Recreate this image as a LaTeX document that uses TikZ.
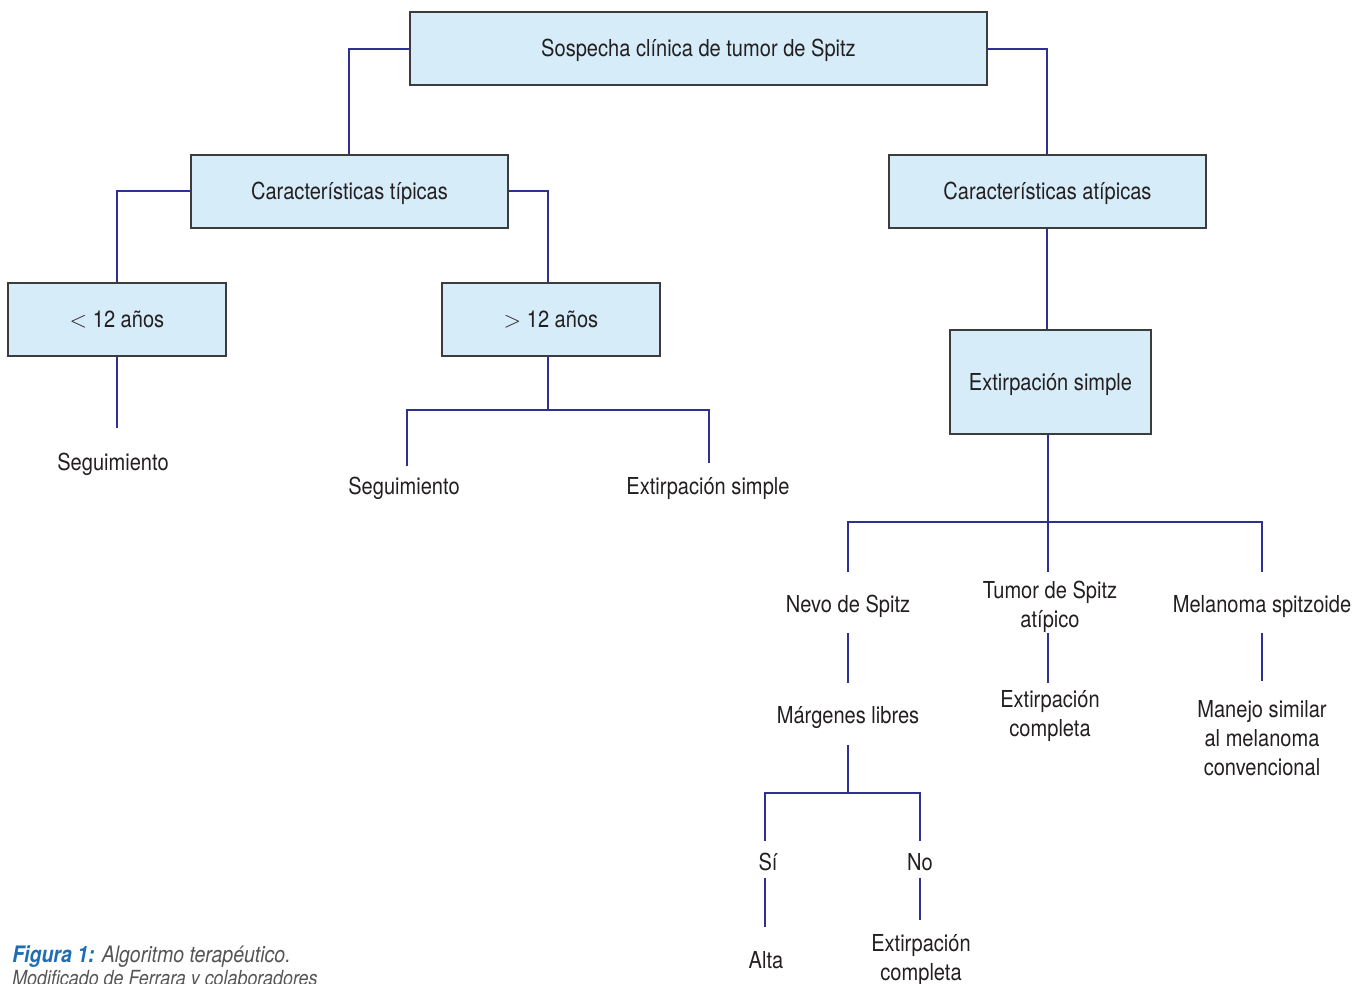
\documentclass[tikz,border=0pt]{standalone}
\usepackage{fontspec}
\setmainfont{TeX Gyre Heros}[FakeStretch=0.86]
\definecolor{boxfill}{HTML}{D6ECF9}
\definecolor{boxline}{HTML}{3C3C3C}
\definecolor{linec}{HTML}{2E3192}
\definecolor{txt}{HTML}{231F20}
\definecolor{capblue}{HTML}{1F6DB3}
\definecolor{capgray}{HTML}{555555}
\begin{document}
\begin{tikzpicture}[x=0.75pt,y=-0.75pt,
  box/.style={draw=boxline, fill=boxfill, line width=0.9pt, inner sep=0pt, minimum height=54.75pt, text=txt, text height=15pt, text depth=2.4pt, font=\fontsize{17.5}{21.75}\selectfont},
  lab/.style={text=txt, align=center, inner sep=0pt, yshift=-1.8pt, font=\fontsize{17.5}{21.75}\selectfont},
  conn/.style={draw=linec, line width=1.4pt},
  capt/.style={anchor=base west, inner sep=0pt, font=\fontsize{17}{20}\selectfont\itshape, text=capgray}]
\useasboundingbox (0,0) rectangle (1365,983);

% boxes
\node[box, minimum width=432.75pt] (root) at (698.5,48.5) {Sospecha clínica de tumor de Spitz};
\node[box, minimum width=237.75pt] (tip) at (349.5,191.5) {Características típicas};
\node[box, minimum width=237.75pt] (atip) at (1047.5,191.5) {Características atípicas};
\node[box, minimum width=163.5pt] (lt) at (117,319.5) {$<$ 12 años};
\node[box, minimum width=163.5pt] (gt) at (551,319.5) {$>$ 12 años};
\node[box, minimum width=150.75pt, minimum height=78pt] (ext) at (1050.5,382) {Extirpación simple};

% labels
\node[lab] (seg1) at (113,462) {Seguimiento};
\node[lab] (seg2) at (404,486) {Seguimiento};
\node[lab] (ext2) at (708,486) {Extirpación simple};
\node[lab] (nevo) at (848,604) {Nevo de Spitz};
\node[lab] (tsa) at (1050,604) {Tumor de Spitz\\atípico};
\node[lab] (mel) at (1262,604) {Melanoma spitzoide};
\node[lab] (marg) at (848,715) {Márgenes libres};
\node[lab] (excomp1) at (1050,714) {Extirpación\\completa};
\node[lab] (manejo) at (1262,736) {Manejo similar\\al melanoma\\convencional};
\node[lab] (si) at (768,860) {Sí};
\node[lab] (no) at (920,860) {No};
\node[lab] (alta) at (766,958) {Alta};
\node[lab] (excomp2) at (921,958) {Extirpación\\completa};

% caption
\node[capt] (cap1) at (12,962) {{\bfseries\color{capblue}Figura 1:} Algoritmo terapéutico.};
\node[capt, font=\fontsize{15.6}{18}\selectfont\itshape] (cap2) at (12,985) {Modificado de Ferrara y colaboradores};

% coordinates
\coordinate (r1) at (349,49);
\coordinate (r2) at (1047,49);
\coordinate (p1) at (117,191);
\coordinate (p2) at (548,191);
\coordinate (a1) at (117,428);
\coordinate (g0) at (548,356);
\coordinate (g1) at (548,410);
\coordinate (g1l) at (407,410);
\coordinate (g1r) at (709,410);
\coordinate (g2l) at (407,466);
\coordinate (g2r) at (709,463);
\coordinate (e0) at (1048,434);
\coordinate (e1) at (1048,522);
\coordinate (e1l) at (848,522);
\coordinate (e1r) at (1262,522);
\coordinate (e2l) at (848,572);
\coordinate (e2m) at (1048,572);
\coordinate (e2r) at (1262,572);
\coordinate (n1) at (848,633);
\coordinate (n2) at (848,683);
\coordinate (t1) at (1048,633);
\coordinate (t2) at (1048,683);
\coordinate (m1) at (1262,633);
\coordinate (m2) at (1262,681);
\coordinate (k1) at (848,745);
\coordinate (k2) at (848,793);
\coordinate (k2l) at (765,793);
\coordinate (k2r) at (920,793);
\coordinate (k3l) at (765,841);
\coordinate (k3r) at (920,841);
\coordinate (s1) at (765,878);
\coordinate (s2) at (765,927);
\coordinate (o1) at (920,878);
\coordinate (o2) at (920,920);

% connectors
\draw[conn] (root.west |- r1) -- (r1) -- (r1 |- tip.north);
\draw[conn] (root.east |- r2) -- (r2) -- (r2 |- atip.north);
\draw[conn] (tip.west |- p1) -- (p1) -- (p1 |- lt.north);
\draw[conn] (tip.east |- p2) -- (p2) -- (p2 |- gt.north);
\draw[conn] (r2 |- atip.south) -- (r2 |- ext.north);
\draw[conn] (lt.south -| a1) -- (a1);
\draw[conn] (g0) -- (g1);
\draw[conn] (g2l) -- (g1l) -- (g1r) -- (g2r);
\draw[conn] (e0) -- (e1);
\draw[conn] (e2l) -- (e1l) -- (e1r) -- (e2r);
\draw[conn] (e1) -- (e2m);
\draw[conn] (n1) -- (n2);
\draw[conn] (t1) -- (t2);
\draw[conn] (m1) -- (m2);
\draw[conn] (k1) -- (k2);
\draw[conn] (k3l) -- (k2l) -- (k2r) -- (k3r);
\draw[conn] (s1) -- (s2);
\draw[conn] (o1) -- (o2);
\end{tikzpicture}
\end{document}
